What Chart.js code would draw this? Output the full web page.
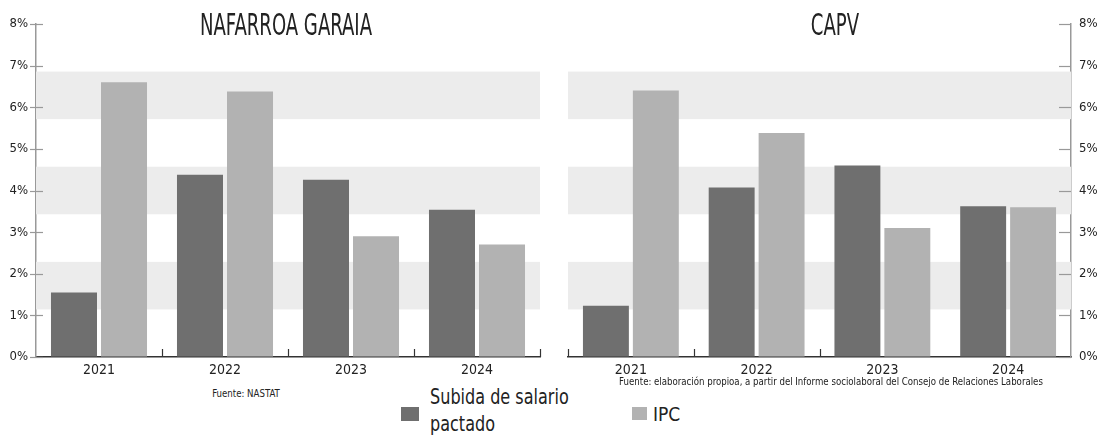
<!DOCTYPE html>
<html>
<head>
<meta charset="utf-8">
<script src="https://cdn.jsdelivr.net/npm/chart.js@4"></script>
<style>
  body { margin: 0; background: #fff; font-family: "Liberation Sans Narrow", "DejaVu Sans Condensed", sans-serif; color: #222; }
  #page { position: relative; width: 1097px; height: 438px; overflow: hidden; }
  canvas { position: absolute; top: 0; }
  .title { position: absolute; top: 10px; font-size: 30px; line-height: 30px; white-space: nowrap; transform: translateX(-50%) scaleX(0.67); }
  .src { position: absolute; font-size: 11px; line-height: 11px; white-space: nowrap; transform: translateX(-50%) scaleX(0.87); }
  .sw { position: absolute; }
  .lg { position: absolute; white-space: nowrap; transform-origin: left center; }
</style>
</head>
<body>
<div id="page">
  <canvas id="navChart" width="548" height="380" style="left:0"></canvas>
  <canvas id="capvChart" width="557" height="380" style="left:540px"></canvas>

  <div class="title" style="left:286px">NAFARROA GARAIA</div>
  <div class="title" style="left:835px">CAPV</div>

  <div class="src" style="left:246px; top:388px">Fuente: NASTAT</div>
  <div class="src" style="left:831px; top:376px">Fuente: elaboración propioa, a partir del Informe sociolaboral del Consejo de Relaciones Laborales</div>

  <div class="sw" style="left:401px; top:407px; width:18px; height:14px; background:#6f6f6f"></div>
  <div class="lg" style="left:430px; top:384px; font-size:21px; line-height:27px; transform:scaleX(0.85)">Subida de salario<br>pactado</div>
  <div class="sw" style="left:632px; top:407px; width:15px; height:13px; background:#b2b2b2"></div>
  <div class="lg" style="left:653px; top:405px; font-size:19px; line-height:19px">IPC</div>
</div>

<script>
// años y valores (%)
const years = ["2021", "2022", "2023", "2024"];
const navSalario = [1.55, 4.38, 4.26, 3.54];
const navIpc = [6.6, 6.38, 2.9, 2.7];
const capvSalario = [1.23, 4.07, 4.6, 3.62];
const capvIpc = [6.4, 5.38, 3.1, 3.6];

const darkGrey = "#6f6f6f";
const lightGrey = "#b2b2b2";
const fontFamily = "'Liberation Sans Narrow', 'DejaVu Sans Condensed', sans-serif";

// franjas grises de fondo + marcas del eje
const decoPlugin = {
    id: "deco",
    beforeDatasetsDraw(chart, args, opts) {
        const { ctx, chartArea } = chart;
        const y = chart.scales.y;
        ctx.save();
        ctx.fillStyle = "#ececec";
        [1, 3, 5].forEach(k => {
            const top = y.getPixelForValue((k + 1) * 8 / 7);
            const bottom = y.getPixelForValue(k * 8 / 7);
            ctx.fillRect(chartArea.left, top, chartArea.right - chartArea.left, bottom - top);
        });
        ctx.restore();
    },
    afterDraw(chart, args, opts) {
        const { ctx, chartArea } = chart;
        const y = chart.scales.y;
        const x = chart.scales.x;
        ctx.save();
        // marcas del eje y
        ctx.strokeStyle = "#999";
        ctx.lineWidth = 1.2;
        const axisX = opts.side === "left" ? chartArea.left : chartArea.right;
        y.ticks.forEach(t => {
            const py = Math.round(y.getPixelForValue(t.value)) + 0.5;
            ctx.beginPath();
            if (opts.side === "left") {
                ctx.moveTo(axisX - 6, py);
                ctx.lineTo(axisX + 7, py);
            } else {
                ctx.moveTo(axisX - 12, py);
                ctx.lineTo(axisX, py);
            }
            ctx.stroke();
        });
        // marcas cortas entre categorías
        ctx.strokeStyle = "#333";
        ctx.lineWidth = 1.2;
        opts.bounds.forEach(i => {
            const px = Math.round(x.getPixelForValue(i - 0.5)) + 0.5;
            ctx.beginPath();
            ctx.moveTo(px, chartArea.bottom);
            ctx.lineTo(px, chartArea.bottom - 8);
            ctx.stroke();
        });
        ctx.restore();
    }
};

function makeChart(id, salario, ipc, side) {
    const ctx = document.getElementById(id).getContext("2d");
    return new Chart(ctx, {
        type: "bar",
        data: {
            labels: years,
            datasets: [
                {
                    label: "Subida de salario pactado",
                    data: salario,
                    backgroundColor: darkGrey,
                    categoryPercentage: 0.794,
                    barPercentage: 0.92,
                },
                {
                    label: "IPC",
                    data: ipc,
                    backgroundColor: lightGrey,
                    categoryPercentage: 0.794,
                    barPercentage: 0.92,
                }
            ]
        },
        options: {
            responsive: false,
            animation: false,
            layout: {
                padding: side === "left"
                    ? { top: 24, right: 8, left: 0, bottom: 0 }
                    : { top: 24, right: 0, left: 28, bottom: 0 }
            },
            plugins: {
                legend: { display: false },
                tooltip: { enabled: false },
                deco: { side: side, bounds: side === "left" ? [1, 2, 3, 4] : [0, 1, 2] }
            },
            scales: {
                x: {
                    grid: { display: false, drawTicks: false },
                    border: { color: "#333", width: 1.5 },
                    ticks: { color: "#222", font: { family: fontFamily, size: 14 }, padding: 5 },
                    afterFit: s => { s.height = 23; }
                },
                y: {
                    position: side,
                    min: 0,
                    max: 8,
                    ticks: {
                        stepSize: 1,
                        color: "#222",
                        padding: 2,
                        font: { family: fontFamily, size: 13 },
                        callback: v => v + "%"
                    },
                    grid: { drawOnChartArea: false, color: "transparent", tickLength: 6 },
                    border: { color: "#999", width: 1.5 },
                    afterFit: s => { s.width = side === "left" ? 36 : 26; }
                }
            }
        },
        plugins: [decoPlugin]
    });
}

makeChart("navChart", navSalario, navIpc, "left");
makeChart("capvChart", capvSalario, capvIpc, "right");
</script>
</body>
</html>
